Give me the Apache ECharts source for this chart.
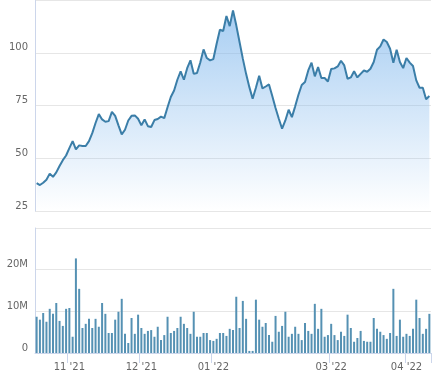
<!DOCTYPE html>
<html><head><meta charset="utf-8">
<script src="https://cdn.jsdelivr.net/npm/echarts@6/dist/echarts.min.js"></script>
<style>html,body{margin:0;padding:0;background:#fff}#c{width:435px;height:375px}</style>
</head><body><div id="c"></div>
<script>
const priceValues = [
  38.2, 37.3, 38.4, 39.8, 42.7, 41.2, 43.3, 46.3, 49.1, 51.3,
  54.8, 58.1, 54.2, 56.1, 55.8, 55.8, 58.1, 61.9, 66.7, 70.9,
  68.4, 67.3, 67.6, 72.0, 70.1, 65.6, 61.3, 63.5, 67.9, 70.1,
  70.3, 68.7, 65.6, 68.4, 65.2, 64.8, 68.1, 68.6, 69.7, 69.0,
  74.2, 79.0, 82.1, 87.2, 91.2, 87.2, 92.7, 96.4, 90.0, 90.4,
  95.4, 101.6, 97.5, 96.4, 97.0, 104.3, 110.9, 110.3, 117.4, 112.6,
  120.1, 113.0, 105.1, 97.2, 90.0, 83.7, 78.2, 83.4, 89.1, 83.1,
  84.0, 85.0, 79.5, 73.8, 68.7, 64.0, 67.9, 73.0, 69.5, 74.6,
  80.1, 84.7, 86.1, 91.6, 95.3, 88.8, 93.2, 88.0, 88.0, 86.4,
  92.3, 92.6, 93.5, 96.2, 94.0, 87.7, 88.3, 91.2, 88.3, 90.0,
  91.6, 91.0, 92.4, 95.6, 101.4, 103.0, 106.3, 105.1, 101.9, 95.3,
  101.4, 95.6, 92.7, 97.5, 95.3, 93.7, 86.9, 83.4, 83.4, 78.0,
  79.5
];
const volumeValues = [
  8.7, 8.0, 9.6, 7.5, 10.6, 9.4, 12.0, 7.7, 6.5, 10.6,
  10.8, 3.9, 22.7, 15.4, 6.0, 7.0, 8.2, 6.0, 8.2, 6.3,
  12.0, 9.4, 4.8, 4.8, 8.0, 9.9, 13.0, 4.6, 2.4, 8.4,
  4.6, 9.2, 6.0, 4.6, 5.3, 5.5, 3.9, 6.3, 3.1, 4.3,
  8.7, 4.8, 5.3, 6.0, 8.7, 7.0, 6.0, 4.6, 9.9, 3.9,
  3.9, 4.8, 4.8, 3.1, 2.9, 3.4, 4.8, 4.8, 4.1, 5.8,
  5.5, 13.5, 6.0, 12.5, 8.2, 0.5, 0.5, 12.8, 8.0, 6.3,
  7.2, 4.3, 2.7, 8.9, 5.1, 6.5, 9.9, 3.9, 4.6, 6.3,
  4.6, 3.1, 7.2, 5.3, 4.6, 11.8, 5.8, 10.6, 3.9, 4.3,
  7.0, 4.3, 3.1, 5.1, 4.1, 9.2, 6.0, 2.7, 3.6, 5.3,
  2.9, 2.7, 2.7, 8.4, 5.8, 5.1, 4.3, 3.4, 4.8, 15.4,
  4.1, 8.0, 3.9, 4.6, 4.1, 5.8, 12.8, 8.4, 4.6, 5.8,
  9.4
];
const monthTickIndex = [10, 32, 54, 90, 113];
const monthTickLabels = ["11 '21", "12 '21", "01 '22", "03 '22", "04 '22"];
const categories = priceValues.map((_, i) => String(i));

const tickMap = {};
monthTickIndex.forEach((idx, k) => { tickMap[idx] = monthTickLabels[k]; });

const FONT = 'DejaVu Sans';
const axisCol = '#ccd6eb';
const gridCol = '#e6e6e6';
const txtCol = '#666666';

const chart = echarts.init(document.getElementById('c'), null, {renderer: 'canvas'});
chart.setOption({
  animation: false,
  backgroundColor: '#ffffff',
  grid: [
    {left: 35, right: 4, top: -1, height: 212},
    {left: 35, right: 4, top: 228, height: 125}
  ],
  xAxis: [
    {
      type: 'category', gridIndex: 0, data: categories, boundaryGap: true,
      axisLine: {show: false}, axisTick: {show: false}, axisLabel: {show: false},
      splitLine: {show: false}
    },
    {
      type: 'category', gridIndex: 1, data: categories, boundaryGap: true,
      axisLine: {show: true, lineStyle: {color: axisCol, width: 1}},
      axisTick: {show: true, length: 10, lineStyle: {color: axisCol},
        interval: (i) => tickMap[i] !== undefined},
      axisLabel: {show: true, interval: (i) => tickMap[i] !== undefined,
        formatter: (v, i) => tickMap[i] || '',
        color: txtCol, fontFamily: FONT, fontSize: 10, margin: 9},
      splitLine: {show: false}
    }
  ],
  yAxis: [
    {
      type: 'value', gridIndex: 0, min: 25, max: 125, interval: 25,
      axisLine: {show: true, lineStyle: {color: axisCol, width: 1}},
      axisTick: {show: false},
      axisLabel: {color: txtCol, fontFamily: FONT, fontSize: 10, margin: 7,
        verticalAlign: 'bottom', showMaxLabel: false},
      splitLine: {show: true, lineStyle: {color: gridCol, width: 1}}
    },
    {
      type: 'value', gridIndex: 1, min: 0, max: 30, interval: 10,
      axisLine: {show: true, lineStyle: {color: axisCol, width: 1}},
      axisTick: {show: false},
      axisLabel: {color: txtCol, fontFamily: FONT, fontSize: 10, margin: 7,
        verticalAlign: 'bottom', showMaxLabel: false,
        formatter: (v) => v === 0 ? '0' : v + 'M'},
      splitLine: {show: true, lineStyle: {color: gridCol, width: 1}}
    }
  ],
  series: [
    {
      type: 'line', xAxisIndex: 0, yAxisIndex: 0, data: priceValues,
      showSymbol: false, symbol: 'none',
      lineStyle: {color: '#3b7ea8', width: 2},
      itemStyle: {color: '#3b7ea8'},
      areaStyle: {
        color: new echarts.graphic.LinearGradient(0, 0, 0, 1, [
          {offset: 0, color: 'rgba(124,181,236,0.95)'},
          {offset: 1, color: 'rgba(124,181,236,0.0)'}
        ])
      }
    },
    {
      type: 'bar', xAxisIndex: 1, yAxisIndex: 1, data: volumeValues,
      barWidth: 2, itemStyle: {color: '#5591b3'}
    }
  ]
});
</script>
</body></html>
